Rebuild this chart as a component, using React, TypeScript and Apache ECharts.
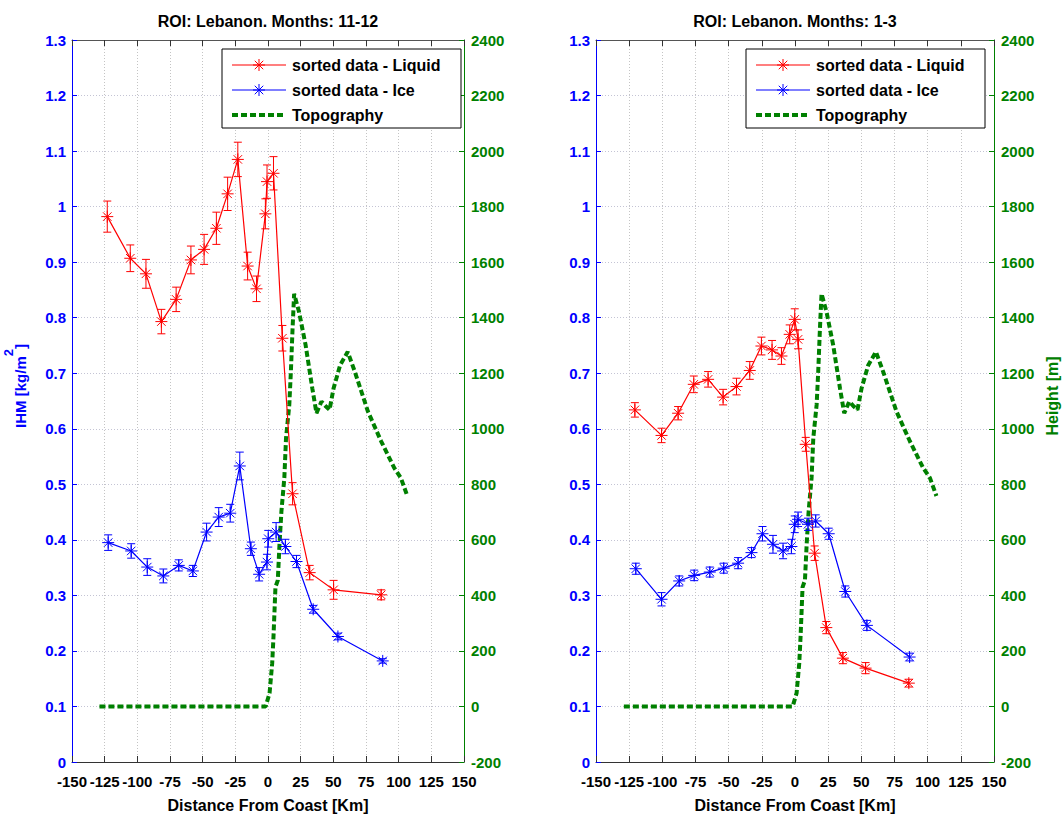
import React, { useEffect, useRef } from 'react';
import * as echarts from 'echarts';

// ---------- DATA ----------
// Panel 1: Months 11-12
const liqX1 = [-123, -105.4, -93.4, -81.6, -70.3, -59, -48.9, -39.5, -30.9, -23.1, -15.6, -8.8, -2, -0.75, 4.2, 11, 18.8, 31.9, 50.2, 86.6];
const liqY1 = [0.982, 0.907, 0.879, 0.793, 0.833, 0.904, 0.923, 0.961, 1.023, 1.085, 0.893, 0.852, 0.987, 1.045, 1.06, 0.763, 0.483, 0.341, 0.31, 0.301];
const liqE1 = [0.028, 0.024, 0.026, 0.022, 0.022, 0.025, 0.027, 0.029, 0.03, 0.031, 0.025, 0.023, 0.027, 0.03, 0.03, 0.023, 0.02, 0.013, 0.017, 0.009];
const iceX1 = [-122.3, -104.7, -92.4, -80.1, -68.3, -57.5, -47, -37.7, -28.9, -21.6, -13.1, -6.8, -0.8, 0.2, 6.2, 13.3, 21.8, 34.6, 53.5, 87.8];
const iceY1 = [0.395, 0.38, 0.351, 0.335, 0.354, 0.344, 0.414, 0.441, 0.448, 0.533, 0.384, 0.338, 0.36, 0.402, 0.414, 0.388, 0.361, 0.275, 0.226, 0.182];
const iceE1 = [0.014, 0.013, 0.015, 0.0125, 0.01, 0.01, 0.016, 0.017, 0.016, 0.025, 0.012, 0.012, 0.014, 0.015, 0.017, 0.013, 0.011, 0.007, 0.006, 0.004];

// Panel 2: Months 1-3
const liqX2 = [-120.7, -100.6, -88.1, -76.3, -65.5, -54.2, -44.1, -34.1, -25.3, -17.3, -10.2, -4, -0.2, 2.3, 8.1, 14.8, 23.6, 36.1, 53.2, 85.8];
const liqY2 = [0.634, 0.588, 0.628, 0.68, 0.689, 0.657, 0.676, 0.705, 0.749, 0.742, 0.731, 0.77, 0.797, 0.761, 0.572, 0.376, 0.242, 0.187, 0.169, 0.142];
const liqE2 = [0.013, 0.013, 0.012, 0.015, 0.014, 0.014, 0.015, 0.016, 0.016, 0.017, 0.015, 0.017, 0.019, 0.017, 0.0125, 0.013, 0.011, 0.01, 0.01, 0.007];
const iceX2 = [-120, -100.6, -87.3, -76, -64.2, -53.7, -42.9, -32.8, -24.5, -16.6, -9, -2.7, -0.2, 2.3, 9.8, 15.6, 25.4, 37.9, 54.2, 86.4];
const iceY2 = [0.348, 0.293, 0.326, 0.336, 0.342, 0.349, 0.358, 0.377, 0.411, 0.392, 0.38, 0.388, 0.428, 0.437, 0.428, 0.434, 0.411, 0.307, 0.246, 0.189];
const iceE2 = [0.01, 0.012, 0.009, 0.0095, 0.009, 0.009, 0.01, 0.009, 0.013, 0.016, 0.014, 0.013, 0.015, 0.013, 0.011, 0.011, 0.01, 0.01, 0.009, 0.007];

// Topography (same for both panels), height in m
const topoX = [-129, -1.8, 1.2, 3.2, 4.2, 5, 5.7, 7.5, 8.8, 10.3, 12.5, 13.8, 16.3, 17.5, 18.8, 20, 23.8, 28.8, 33.9, 37.1, 40.9, 44.4, 47.1, 50.2, 55.2, 61, 66.5, 76.5, 86.6, 96.6, 101.7, 106.6];
const topoH = [0, 0, 48, 155, 251, 346, 430, 454, 585, 704, 823, 967, 1086, 1205, 1361, 1486, 1420, 1301, 1146, 1056, 1098, 1080, 1068, 1146, 1229, 1277, 1205, 1062, 955, 859, 823, 758];

const titles = ['ROI: Lebanon. Months: 11-12', 'ROI: Lebanon. Months: 1-3'];
const legendLabels = ['sorted data - Liquid', 'sorted data - Ice', 'Topography'];
const xName = 'Distance From Coast [Km]';
const yLeftName = '{a|IHM [kg/m}{b|2}{a|]}';
const yRightName = 'Height [m]';

// ---------- STYLE ----------
const FONT = '"Liberation Sans", Arial, Helvetica, sans-serif';
const RED = '#ff0000';
const BLUE = '#0000ff';
const GREEN = '#008000';
const GRIDS = [
  { left: 72, top: 40, width: 392, height: 726 },
  { left: 596, top: 40, width: 398, height: 726 },
];

const starLines = (cx: number, cy: number, r: number, color: string, z?: number) => {
  const d = r * 0.7071;
  return [
    [cx - r, cy, cx + r, cy],
    [cx, cy - r, cx, cy + r],
    [cx - d, cy - d, cx + d, cy + d],
    [cx - d, cy + d, cx + d, cy - d],
  ].map(([x1, y1, x2, y2]) => {
    const el: any = { type: 'line', shape: { x1, y1, x2, y2 }, style: { stroke: color, lineWidth: 1 } };
    if (z !== undefined) el.z = z;
    return el;
  });
};

const errSeries = (xs: number[], ys: number[], es: number[], color: string, xi: number, yi: number) => ({
  type: 'custom',
  xAxisIndex: xi,
  yAxisIndex: yi,
  z: 4,
  silent: true,
  encode: { x: 0, y: 1 },
  data: xs.map((x, i) => [x, ys[i], es[i]]),
  renderItem: (params: any, api: any) => {
    const x = api.value(0);
    const y = api.value(1);
    const e = api.value(2);
    const c = api.coord([x, y]);
    const t = api.coord([x, y + e]);
    const b = api.coord([x, y - e]);
    const cw = 4;
    const st = { stroke: color, lineWidth: 1 };
    return {
      type: 'group',
      children: [
        { type: 'line', shape: { x1: c[0], y1: t[1], x2: c[0], y2: b[1] }, style: st },
        { type: 'line', shape: { x1: c[0] - cw, y1: t[1], x2: c[0] + cw, y2: t[1] }, style: st },
        { type: 'line', shape: { x1: c[0] - cw, y1: b[1], x2: c[0] + cw, y2: b[1] }, style: st },
        ...starLines(c[0], c[1], 6, color),
      ],
    };
  },
});

const lineSeries = (xs: number[], ys: number[], color: string, xi: number, yi: number) => ({
  type: 'line',
  xAxisIndex: xi,
  yAxisIndex: yi,
  symbol: 'none',
  silent: true,
  z: 3,
  lineStyle: { color, width: 1.2 },
  data: xs.map((x, i) => [x, ys[i]]),
});

const topoSeries = (xi: number, yi: number) => ({
  type: 'line',
  xAxisIndex: xi,
  yAxisIndex: yi,
  symbol: 'none',
  silent: true,
  z: 2,
  lineStyle: { color: GREEN, width: 4, type: [6, 3], cap: 'butt' },
  data: topoX.map((x, i) => [x, topoH[i]]),
});

const xBottom = (gi: number) => ({
  type: 'value', gridIndex: gi, min: -150, max: 150, interval: 25, position: 'bottom',
  name: xName, nameLocation: 'middle', nameGap: 35,
  nameTextStyle: { color: '#000', fontWeight: 'bold', fontSize: 16, fontFamily: FONT },
  axisLine: { show: true, onZero: false, lineStyle: { color: '#333', width: 1 } },
  axisTick: { show: true, inside: true, length: 6, lineStyle: { color: '#333' } },
  axisLabel: { color: '#000', fontWeight: 'bold', fontSize: 15, fontFamily: FONT, margin: 12, formatter: (v: number) => String(v) },
  splitLine: { show: true, lineStyle: { color: '#c4c4c4', type: [1, 2], width: 1 } },
});

const xTop = (gi: number) => ({
  type: 'value', gridIndex: gi, min: -150, max: 150, interval: 25, position: 'top',
  axisLine: { show: true, onZero: false, lineStyle: { color: '#555', width: 1 } },
  axisTick: { show: true, inside: true, length: 6, lineStyle: { color: '#333' } },
  axisLabel: { show: false },
  splitLine: { show: false },
});

const yLeft = (gi: number) => ({
  type: 'value', gridIndex: gi, min: 0, max: 1.3, interval: 0.1, position: 'left',
  axisLine: { show: true, onZero: false, lineStyle: { color: BLUE, width: 1 } },
  axisTick: { show: true, inside: true, length: 5, lineStyle: { color: BLUE } },
  axisLabel: {
    color: BLUE, fontWeight: 'bold', fontSize: 15, fontFamily: FONT, margin: 6,
    formatter: (v: number) => String(Math.round(v * 10) / 10),
  },
  splitLine: { show: true, lineStyle: { color: '#c4c4d4', type: [1, 2], width: 1 } },
});

const yRight = (gi: number) => ({
  type: 'value', gridIndex: gi, min: -200, max: 2400, interval: 200, position: 'right',
  axisLine: { show: true, onZero: false, lineStyle: { color: GREEN, width: 1 } },
  axisTick: { show: true, inside: true, length: 5, lineStyle: { color: GREEN } },
  axisLabel: {
    color: GREEN, fontWeight: 'bold', fontSize: 15, fontFamily: FONT, margin: 7,
    formatter: (v: number) => String(Math.round(v)),
  },
  splitLine: { show: false },
});

const legendGraphic = (gx: number) => {
  const x0 = gx + 150;
  const y0 = 49;
  const w = 239;
  const h = 79;
  const rows = [y0 + 16, y0 + 41, y0 + 66];
  const els: any[] = [
    { type: 'rect', z: 100, shape: { x: x0, y: y0, width: w, height: h }, style: { fill: '#fff', stroke: '#000', lineWidth: 1 } },
    { type: 'line', z: 101, shape: { x1: x0 + 10, y1: rows[0], x2: x0 + 64, y2: rows[0] }, style: { stroke: RED, lineWidth: 1.2 } },
    ...starLines(x0 + 37, rows[0], 6, RED, 102),
    { type: 'line', z: 101, shape: { x1: x0 + 10, y1: rows[1], x2: x0 + 64, y2: rows[1] }, style: { stroke: BLUE, lineWidth: 1.2 } },
    ...starLines(x0 + 37, rows[1], 6, BLUE, 102),
    { type: 'line', z: 101, shape: { x1: x0 + 10, y1: rows[2], x2: x0 + 64, y2: rows[2] }, style: { stroke: GREEN, lineWidth: 4, lineDash: [6, 3] } },
  ];
  legendLabels.forEach((t, i) => {
    els.push({
      type: 'text', z: 101,
      style: { text: t, x: x0 + 70, y: rows[i], fill: '#000', fontSize: 16, fontWeight: 'bold', fontFamily: FONT, align: 'left', verticalAlign: 'middle' },
    });
  });
  return els;
};

const titleGraphic = (gi: number) => ({
  type: 'text', z: 100,
  style: {
    text: titles[gi], x: GRIDS[gi].left + GRIDS[gi].width / 2, y: 21,
    fill: '#000', fontSize: 16, fontWeight: 'bold', fontFamily: FONT, align: 'center', verticalAlign: 'middle',
  },
});

const axisNameGraphics = [
  {
    type: 'text', z: 100, x: 15, y: 386, rotation: Math.PI / 2,
    style: {
      text: yLeftName, align: 'center', verticalAlign: 'middle', fill: BLUE,
      fontSize: 15, fontWeight: 'bold', fontFamily: FONT,
      rich: {
        a: { fill: BLUE, fontSize: 15, fontWeight: 'bold', fontFamily: FONT, lineHeight: 26, verticalAlign: 'bottom' },
        b: { fill: BLUE, fontSize: 13, fontWeight: 'bold', fontFamily: FONT, lineHeight: 12, verticalAlign: 'top' },
      },
    },
  },
  {
    type: 'text', z: 100, x: 1052, y: 396, rotation: Math.PI / 2,
    style: {
      text: yRightName, align: 'center', verticalAlign: 'middle', fill: GREEN,
      fontSize: 16, fontWeight: 'bold', fontFamily: FONT,
    },
  },
];

export default function App() {
  const ref = useRef<HTMLDivElement>(null);
  useEffect(() => {
    if (!ref.current) return;
    const chart = echarts.init(ref.current, undefined, { renderer: 'svg' });
    chart.setOption({
      animation: false,
      backgroundColor: '#ffffff',
      grid: GRIDS,
      xAxis: [xBottom(0), xTop(0), xBottom(1), xTop(1)],
      yAxis: [yLeft(0), yRight(0), yLeft(1), yRight(1)],
      series: [
        topoSeries(0, 1),
        lineSeries(liqX1, liqY1, RED, 0, 0),
        lineSeries(iceX1, iceY1, BLUE, 0, 0),
        errSeries(liqX1, liqY1, liqE1, RED, 0, 0),
        errSeries(iceX1, iceY1, iceE1, BLUE, 0, 0),
        topoSeries(2, 3),
        lineSeries(liqX2, liqY2, RED, 2, 2),
        lineSeries(iceX2, iceY2, BLUE, 2, 2),
        errSeries(liqX2, liqY2, liqE2, RED, 2, 2),
        errSeries(iceX2, iceY2, iceE2, BLUE, 2, 2),
      ],
      graphic: [
        titleGraphic(0),
        titleGraphic(1),
        ...axisNameGraphics,
        ...legendGraphic(GRIDS[0].left),
        ...legendGraphic(GRIDS[1].left),
      ],
    });
    return () => chart.dispose();
  }, []);
  return <div ref={ref} style={{ position: 'absolute', left: 0, top: 0, width: 1062, height: 818 }} />;
}
